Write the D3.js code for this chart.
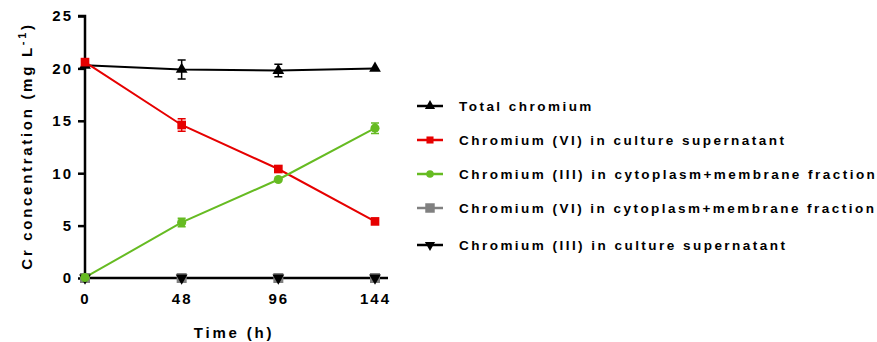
<!DOCTYPE html>
<html><head><meta charset="utf-8">
<script src="https://cdn.jsdelivr.net/npm/d3@7"></script>
<style>body{margin:0;background:#fff}svg{display:block}text{font-family:"Liberation Sans",Arial,sans-serif;font-weight:bold}</style>
</head><body><svg id="c" width="877" height="342"></svg>
<script>
const times = [0, 48, 96, 144];
const totalCr = [20.3, 19.9, 19.8, 20.0];
const totalErr = [0, 0.9, 0.6, 0];
const cr6Sup = [20.6, 14.6, 10.4, 5.4];
const cr6SupErr = [0, 0.6, 0, 0];
const cr3Cyto = [0.05, 5.3, 9.4, 14.3];
const cr3CytoErr = [0, 0.4, 0, 0.5];
const cr6Cyto = [0, 0, 0, 0];
const cr3Sup = [0, 0, 0, 0];
const xTicks = [0, 48, 96, 144];
const yTicks = [0, 5, 10, 15, 20, 25];
const legendLabels = ["Total chromium","Chromium (VI) in culture supernatant","Chromium (III) in cytoplasm+membrane fraction","Chromium (VI) in cytoplasm+membrane fraction","Chromium (III) in culture supernatant"];

const svg = d3.select("#c");
const x = d3.scaleLinear().domain([0,144]).range([85,375]);
const y = d3.scaleLinear().domain([0,25]).range([278,16]);

const series = [
  {vals: cr6Cyto, err:[0,0,0,0], color:"#808080", sym:"square", size:100, key:3},
  {vals: cr3Sup, err:[0,0,0,0], color:"#000", sym:"down", size:60, key:4},
  {vals: totalCr, err: totalErr, color:"#000", sym:"up", size:60, key:0},
  {vals: cr6Sup, err: cr6SupErr, color:"#e60000", sym:"square", size:75, key:1},
  {vals: cr3Cyto, err: cr3CytoErr, color:"#66bb22", sym:"circle", size:65, key:2}
];
function symPath(s, size){
  if(s==="square") return d3.symbol(d3.symbolSquare, size)();
  if(s==="circle") return d3.symbol(d3.symbolCircle, size)();
  return d3.symbol(d3.symbolTriangle, size)();
}

// axes
const yAxis = d3.axisLeft(y).tickValues(yTicks).tickSize(7).tickPadding(5);
const gy = svg.append("g").attr("transform","translate(85,0)").call(yAxis);
gy.select(".domain").attr("stroke-width",2.5).attr("d","M-7,16H0V278");
gy.selectAll(".tick line").attr("stroke-width",2.5);
gy.selectAll(".tick text").attr("font-size",15).attr("letter-spacing","2px").attr("fill","#000");

const xAxis = d3.axisBottom(x).tickValues(xTicks).tickSize(0).tickPadding(15);
const gx = svg.append("g").attr("transform","translate(0,278)").call(xAxis);
gx.select(".domain").attr("stroke-width",2.5).attr("d","M84,0H388");
gx.selectAll(".tick text").attr("font-size",15).attr("letter-spacing","2px").attr("fill","#000");

svg.append("text").attr("x",234).attr("y",338).attr("text-anchor","middle").attr("font-size",15).attr("letter-spacing","2.8px").text("Time (h)");
const yt = svg.append("text").attr("transform","translate(32,146) rotate(-90)").attr("text-anchor","middle").attr("font-size",15).attr("letter-spacing","2.7px");
yt.append("tspan").text("Cr concentration (mg L");
yt.append("tspan").attr("dy",-6).attr("font-size",11).text("-1");
yt.append("tspan").attr("dy",6).text(")");

const line = d3.line().x((d,i)=>x(times[i])).y(d=>y(d));
series.forEach(s=>{
  svg.append("path").datum(s.vals).attr("d",line).attr("fill","none").attr("stroke",s.color).attr("stroke-width",2);
});
series.forEach(s=>{
  const g = svg.append("g");
  s.vals.forEach((v,i)=>{
    const e = s.err[i];
    if(e>0){
      const cx = x(times[i]);
      g.append("path").attr("d",`M${cx},${y(v-e)}V${y(v+e)}M${cx-4},${y(v-e)}H${cx+4}M${cx-4},${y(v+e)}H${cx+4}`).attr("stroke",s.color).attr("stroke-width",1.5).attr("fill","none");
    }
    g.append("path").attr("d",symPath(s.sym,s.size))
      .attr("transform",`translate(${x(times[i])},${y(v)})${s.sym==="down"?" rotate(180)":""}`)
      .attr("fill",s.color);
  });
});

// legend
const legY = [106,140,174,208,245];
const legOrder = [2,3,4,0,1];
const legSize = [45,50,45,90,45];
legendLabels.forEach((lab,i)=>{
  const s = series[legOrder[i]];
  const g = svg.append("g").attr("transform",`translate(0,${legY[i]})`);
  g.append("line").attr("x1",417).attr("x2",443).attr("stroke",s.color).attr("stroke-width",2.5);
  g.append("path").attr("d",symPath(s.sym, legSize[i]))
    .attr("transform",`translate(430,0)${s.sym==="down"?" rotate(180)":""}`).attr("fill",s.color);
  g.append("text").attr("x",459).attr("y",5).attr("font-size",13.5).attr("letter-spacing","2.47px").text(lab);
});
</script></body></html>
